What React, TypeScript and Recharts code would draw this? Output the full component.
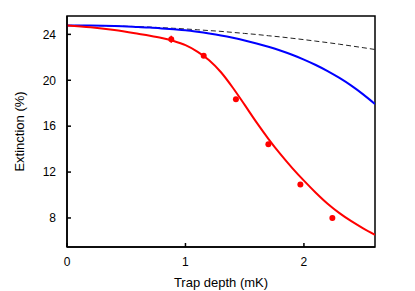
import { ComposedChart, Line, Scatter, ErrorBar, XAxis, YAxis, ReferenceArea } from 'recharts'

// trap depth grid used by the three model curves (mK)
const curveX = [0, 0.2, 0.4, 0.6, 0.7, 0.8, 0.9, 1.0, 1.1, 1.2, 1.3, 1.4, 1.5, 1.6, 1.7, 1.8, 1.9, 2.0, 2.1, 2.2, 2.3, 2.4, 2.5, 2.6]
const redFit = [24.78, 24.62, 24.37, 24.05, 23.88, 23.68, 23.42, 23.06, 22.5, 21.75, 20.7, 19.35, 17.85, 16.33, 14.9, 13.58, 12.37, 11.25, 10.2, 9.24, 8.42, 7.72, 7.1, 6.53]
const blueFit = [24.78, 24.77, 24.73, 24.64, 24.59, 24.52, 24.44, 24.35, 24.22, 24.07, 23.9, 23.7, 23.47, 23.21, 22.92, 22.59, 22.22, 21.8, 21.33, 20.8, 20.2, 19.53, 18.77, 17.93]
const dashedFit = [24.78, 24.77, 24.73, 24.67, 24.63, 24.58, 24.53, 24.47, 24.4, 24.33, 24.26, 24.17, 24.08, 23.99, 23.88, 23.78, 23.66, 23.54, 23.41, 23.28, 23.14, 22.99, 22.84, 22.68]

// measured points
const measX = [0.88, 1.154, 1.426, 1.7, 1.97, 2.24]
const measY = [23.57, 22.14, 18.35, 14.43, 10.92, 8.0]
const measErr = [0.3, 0.2, 0.2, 0.2, 0.2, 0.2]

const xTicks = [0, 1, 2]
const yTicks = [8, 12, 16, 20, 24]

const toPoints = (ys: number[]) => curveX.map((x, i) => ({ x, y: ys[i] }))
const redData = toPoints(redFit)
const blueData = toPoints(blueFit)
const dashedData = toPoints(dashedFit)
const measData = measX.map((x, i) => ({ x, y: measY[i], err: measErr[i] }))

const family = '"Liberation Sans", Arial, sans-serif'
const tickFont = { fontFamily: family, fontSize: 12, fill: '#000' }
const labelFont = { fontFamily: family, fontSize: 13, fill: '#000' }

export default function App() {
  return (
    <div style={{ position: 'absolute', left: 0, top: 0, background: '#fff' }}>
      <ComposedChart width={415} height={291} margin={{ top: 16, right: 40, left: 0, bottom: 0 }}>
        <XAxis
          dataKey="x"
          type="number"
          domain={[0, 2.6]}
          ticks={xTicks}
          allowDataOverflow
          height={44}
          tickSize={-4}
          tickMargin={14}
          tick={tickFont}
          stroke="#000"
          strokeWidth={1.5}
          label={{ value: 'Trap depth (mK)', position: 'center', dy: 13, style: labelFont }}
        />
        <YAxis
          dataKey="y"
          type="number"
          domain={[5.47, 25.6]}
          ticks={yTicks}
          allowDataOverflow
          width={67}
          tickSize={-4}
          tickMargin={15}
          tick={tickFont}
          stroke="#000"
          strokeWidth={1.5}
          label={{ value: 'Extinction (%)', angle: -90, position: 'center', dx: -14, style: labelFont }}
        />
        <ReferenceArea x1={0} x2={2.6} y1={5.47} y2={25.6} fill="none" stroke="#000" strokeWidth={1.5} />
        <Line data={dashedData} dataKey="y" type="monotone" stroke="#222" strokeWidth={1} strokeDasharray="5 3" dot={false} isAnimationActive={false} />
        <Line data={blueData} dataKey="y" type="monotone" stroke="#0000ff" strokeWidth={2} dot={false} isAnimationActive={false} />
        <Line data={redData} dataKey="y" type="monotone" stroke="#ff0000" strokeWidth={2} dot={false} isAnimationActive={false} />
        <Scatter data={measData} dataKey="y" fill="#ff0000" shape={(p: any) => <circle cx={p.cx} cy={p.cy} r={3} fill="#ff0000" />} isAnimationActive={false}>
          <ErrorBar dataKey="err" direction="y" width={0} stroke="#ff0000" strokeWidth={1.5} />
        </Scatter>
      </ComposedChart>
    </div>
  )
}
